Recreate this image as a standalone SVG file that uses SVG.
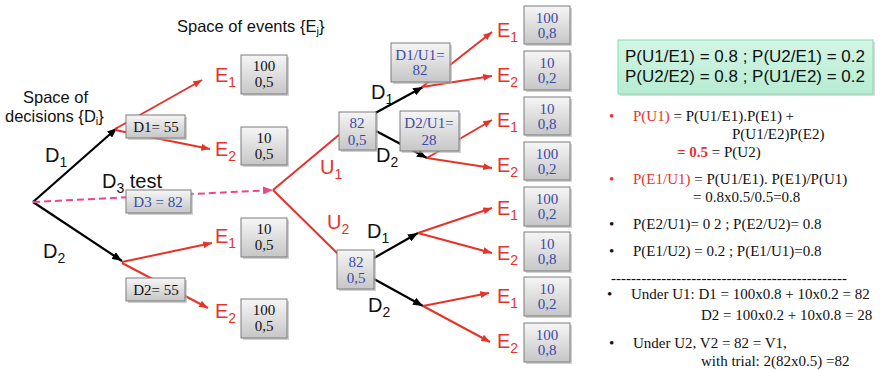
<svg xmlns="http://www.w3.org/2000/svg" width="880" height="370" viewBox="0 0 880 370">
  <defs>
    <linearGradient id="boxFill" x1="0" y1="0" x2="0" y2="1">
      <stop offset="0" stop-color="#f6f6f6"/>
      <stop offset="1" stop-color="#c6c6c6"/>
    </linearGradient>
    <linearGradient id="noteFill" x1="0" y1="0" x2="0" y2="1">
      <stop offset="0" stop-color="#d4f5e4"/>
      <stop offset="1" stop-color="#b6ecd2"/>
    </linearGradient>
    <marker id="arRed" viewBox="0 0 10 8" refX="10" refY="4" markerWidth="9" markerHeight="7" markerUnits="userSpaceOnUse" orient="auto">
      <path d="M0,0 L10,4 L0,8 z" fill="#e6332a"/>
    </marker>
    <marker id="arBlack" viewBox="0 0 10 8" refX="10" refY="4" markerWidth="10" markerHeight="8" markerUnits="userSpaceOnUse" orient="auto">
      <path d="M0,0 L10,4 L0,8 z" fill="#000"/>
    </marker>
    <marker id="arPink" viewBox="0 0 10 8" refX="10" refY="4" markerWidth="10" markerHeight="8" markerUnits="userSpaceOnUse" orient="auto">
      <path d="M0,0 L10,4 L0,8 z" fill="#ee4590"/>
    </marker>
  </defs>
  <style>
    .red { stroke: #e6332a; stroke-width: 2; fill: none; }
    .redA { stroke: #e6332a; stroke-width: 2; fill: none; marker-end: url(#arRed); }
    .blk { stroke: #000; stroke-width: 2.2; fill: none; marker-end: url(#arBlack); }
    .pink { stroke: #ee4590; stroke-width: 2; fill: none; stroke-dasharray: 7 4; marker-end: url(#arPink); }
    .box { fill: url(#boxFill); stroke: #7c7c7c; stroke-width: 1; }
    .shd { fill: #b0b0b0; opacity: 0.6; }
    .num { font-family: "Liberation Serif", "Times New Roman", serif; font-size: 15px; text-anchor: middle; fill: #111; }
    .numB { font-family: "Liberation Serif", "Times New Roman", serif; font-size: 15px; text-anchor: middle; fill: #3a4aa8; }
    .lbl { font-family: "Liberation Sans", Arial, sans-serif; font-size: 20px; fill: #111; }
    .lblR { font-family: "Liberation Sans", Arial, sans-serif; font-size: 20px; fill: #e6332a; }
    .cap { font-family: "Liberation Sans", Arial, sans-serif; font-size: 16.5px; fill: #111; }
    .note { font-family: "Liberation Sans", Arial, sans-serif; font-size: 17px; fill: #111; }
    .tx { font-family: "Liberation Serif", "Times New Roman", serif; font-size: 15px; fill: #111; }
    .rd { fill: #e6332a; }
  </style>

  <!-- headings -->
  <text class="cap" x="177" y="32">Space of events {E<tspan font-size="11" dy="3">j</tspan><tspan dy="-3">}</tspan></text>
  <text class="cap" x="23" y="103">Space of</text>
  <text class="cap" x="5" y="122">decisions {D<tspan font-size="11" dy="3">i</tspan><tspan dy="-3">}</tspan></text>

  <!-- connectors -->
  <g id="connectors">
    <line class="blk" x1="33" y1="202" x2="117" y2="128"/>
    <line class="blk" x1="33" y1="202" x2="122" y2="261"/>
    <line class="pink" x1="33" y1="202" x2="273" y2="190"/>

    <line class="redA" x1="115" y1="129" x2="202" y2="80"/>
    <line class="redA" x1="115" y1="130" x2="210" y2="149"/>
    <line class="redA" x1="122" y1="262" x2="212" y2="243"/>
    <line class="redA" x1="122" y1="263" x2="208" y2="308"/>

    <line class="red" x1="273" y1="190" x2="340" y2="134"/>
    <line class="red" x1="273" y1="190" x2="338" y2="254"/>

    <line class="blk" x1="368" y1="117" x2="423" y2="87"/>
    <line class="blk" x1="376" y1="131" x2="427" y2="158"/>
    <line class="blk" x1="374" y1="258" x2="418" y2="233"/>
    <line class="blk" x1="374" y1="279" x2="423" y2="306"/>

    <line class="redA" x1="422" y1="87" x2="492" y2="32"/>
    <line class="redA" x1="422" y1="87" x2="492" y2="76"/>
    <line class="redA" x1="427" y1="158" x2="492" y2="120"/>
    <line class="redA" x1="427" y1="158" x2="492" y2="168"/>
    <line class="redA" x1="418" y1="233" x2="492" y2="208"/>
    <line class="redA" x1="418" y1="233" x2="492" y2="253"/>
    <line class="redA" x1="423" y1="306" x2="489" y2="293"/>
    <line class="redA" x1="423" y1="306" x2="490" y2="342"/>
  </g>

  <!-- branch labels -->
  <g id="branch-labels">
    <text class="lbl" x="45" y="162" font-size="21">D<tspan font-size="14" dy="5">1</tspan></text>
    <text class="lbl" x="43" y="258" font-size="21">D<tspan font-size="14" dy="5">2</tspan></text>
    <text class="lbl" x="102" y="188">D<tspan font-size="14" dy="5">3</tspan><tspan dy="-5"> test</tspan></text>
    <text class="lblR" x="320" y="174">U<tspan font-size="14" dy="5">1</tspan></text>
    <text class="lblR" x="327" y="229">U<tspan font-size="14" dy="5">2</tspan></text>
    <text class="lbl" x="371" y="99">D<tspan font-size="14" dy="5">1</tspan></text>
    <text class="lbl" x="376" y="162">D<tspan font-size="14" dy="5">2</tspan></text>
    <text class="lbl" x="367" y="238">D<tspan font-size="14" dy="5">1</tspan></text>
    <text class="lbl" x="368" y="312">D<tspan font-size="14" dy="5">2</tspan></text>

    <text class="lblR" x="215" y="82">E<tspan font-size="14" dy="5">1</tspan></text>
    <text class="lblR" x="215" y="156">E<tspan font-size="14" dy="5">2</tspan></text>
    <text class="lblR" x="215" y="243">E<tspan font-size="14" dy="5">1</tspan></text>
    <text class="lblR" x="215" y="318">E<tspan font-size="14" dy="5">2</tspan></text>

    <text class="lblR" x="497" y="37">E<tspan font-size="14" dy="5">1</tspan></text>
    <text class="lblR" x="497" y="82">E<tspan font-size="14" dy="5">2</tspan></text>
    <text class="lblR" x="497" y="127">E<tspan font-size="14" dy="5">1</tspan></text>
    <text class="lblR" x="497" y="172">E<tspan font-size="14" dy="5">2</tspan></text>
    <text class="lblR" x="497" y="215">E<tspan font-size="14" dy="5">1</tspan></text>
    <text class="lblR" x="497" y="260">E<tspan font-size="14" dy="5">2</tspan></text>
    <text class="lblR" x="497" y="303">E<tspan font-size="14" dy="5">1</tspan></text>
    <text class="lblR" x="497" y="348">E<tspan font-size="14" dy="5">2</tspan></text>
  </g>

  <!-- decision value nodes -->
  <g id="node-d1">
    <rect class="shd" x="128" y="117" width="59" height="23"/>
    <rect class="box" x="126" y="115" width="59" height="23"/>
    <text class="num" x="156" y="132">D1= 55</text>
  </g>
  <g id="node-d3">
    <rect class="shd" x="128" y="192" width="65" height="23"/>
    <rect class="box" x="126" y="190" width="65" height="23"/>
    <text class="numB" x="158" y="207">D3 = 82</text>
  </g>
  <g id="node-d2">
    <rect class="shd" x="128" y="280" width="59" height="23"/>
    <rect class="box" x="126" y="278" width="59" height="23"/>
    <text class="num" x="156" y="295">D2= 55</text>
  </g>

  <!-- outcomes without trial -->
  <g id="node-d1-e1">
    <rect class="shd" x="243" y="57" width="46" height="39"/>
    <rect class="box" x="241" y="55" width="46" height="39"/>
    <text class="num" x="264" y="71">100</text>
    <text class="num" x="264" y="87">0,5</text>
  </g>
  <g id="node-d1-e2">
    <rect class="shd" x="243" y="129" width="46" height="38"/>
    <rect class="box" x="241" y="127" width="46" height="38"/>
    <text class="num" x="264" y="143">10</text>
    <text class="num" x="264" y="159">0,5</text>
  </g>
  <g id="node-d2-e1">
    <rect class="shd" x="243" y="220" width="46" height="39"/>
    <rect class="box" x="241" y="218" width="46" height="39"/>
    <text class="num" x="264" y="234">10</text>
    <text class="num" x="264" y="250">0,5</text>
  </g>
  <g id="node-d2-e2">
    <rect class="shd" x="243" y="301" width="46" height="39"/>
    <rect class="box" x="241" y="299" width="46" height="39"/>
    <text class="num" x="264" y="315">100</text>
    <text class="num" x="264" y="331">0,5</text>
  </g>

  <!-- trial result nodes -->
  <g id="node-u1">
    <rect class="shd" x="341" y="114" width="37" height="38"/>
    <rect class="box" x="339" y="112" width="37" height="38"/>
    <text class="numB" x="357" y="128">82</text>
    <text class="numB" x="357" y="145">0,5</text>
  </g>
  <g id="node-u2">
    <rect class="shd" x="339" y="252" width="37" height="39"/>
    <rect class="box" x="337" y="250" width="37" height="39"/>
    <text class="numB" x="356" y="267">82</text>
    <text class="numB" x="356" y="283">0,5</text>
  </g>
  <g id="node-d1-u1">
    <rect class="shd" x="393" y="45" width="59" height="39"/>
    <rect class="box" x="391" y="43" width="59" height="39"/>
    <text class="numB" x="420" y="60">D1/U1=</text>
    <text class="numB" x="420" y="75">82</text>
  </g>
  <g id="node-d2-u1">
    <rect class="shd" x="402" y="113" width="59" height="40"/>
    <rect class="box" x="400" y="111" width="59" height="40"/>
    <text class="numB" x="429" y="128">D2/U1=</text>
    <text class="numB" x="429" y="145">28</text>
  </g>

  <!-- outcomes after trial -->
  <g id="node-u1-d1-e1">
    <rect class="shd" x="526" y="8" width="46" height="38"/>
    <rect class="box" x="524" y="6" width="46" height="38"/>
    <text class="numB" x="547" y="23">100</text>
    <text class="numB" x="547" y="38">0,8</text>
  </g>
  <g id="node-u1-d1-e2">
    <rect class="shd" x="526" y="53" width="46" height="39"/>
    <rect class="box" x="524" y="51" width="46" height="39"/>
    <text class="numB" x="547" y="68">10</text>
    <text class="numB" x="547" y="83">0,2</text>
  </g>
  <g id="node-u1-d2-e1">
    <rect class="shd" x="526" y="99" width="46" height="38"/>
    <rect class="box" x="524" y="97" width="46" height="38"/>
    <text class="numB" x="547" y="114">10</text>
    <text class="numB" x="547" y="129">0,8</text>
  </g>
  <g id="node-u1-d2-e2">
    <rect class="shd" x="526" y="144" width="46" height="38"/>
    <rect class="box" x="524" y="142" width="46" height="38"/>
    <text class="numB" x="547" y="159">100</text>
    <text class="numB" x="547" y="174">0,2</text>
  </g>
  <g id="node-u2-d1-e1">
    <rect class="shd" x="526" y="189" width="46" height="39"/>
    <rect class="box" x="524" y="187" width="46" height="39"/>
    <text class="numB" x="547" y="204">100</text>
    <text class="numB" x="547" y="219">0,2</text>
  </g>
  <g id="node-u2-d1-e2">
    <rect class="shd" x="526" y="234" width="46" height="39"/>
    <rect class="box" x="524" y="232" width="46" height="39"/>
    <text class="numB" x="547" y="249">10</text>
    <text class="numB" x="547" y="264">0,8</text>
  </g>
  <g id="node-u2-d2-e1">
    <rect class="shd" x="526" y="279" width="46" height="39"/>
    <rect class="box" x="524" y="277" width="46" height="39"/>
    <text class="numB" x="547" y="294">10</text>
    <text class="numB" x="547" y="309">0,2</text>
  </g>
  <g id="node-u2-d2-e2">
    <rect class="shd" x="526" y="325" width="46" height="39"/>
    <rect class="box" x="524" y="323" width="46" height="39"/>
    <text class="numB" x="547" y="340">100</text>
    <text class="numB" x="547" y="355">0,8</text>
  </g>

  <!-- likelihood note -->
  <g id="likelihoods">
    <rect x="620" y="42" width="255" height="54" fill="#b8b8b8" opacity="0.5"/>
    <rect x="618" y="40" width="255" height="54" fill="url(#noteFill)" stroke="#86d9b2" stroke-width="1"/>
    <text class="note" x="625" y="62">P(U1/E1) = 0.8 ; P(U2/E1) = 0.2</text>
    <text class="note" x="625" y="82">P(U2/E2) = 0.8 ; P(U1/E2) = 0.2</text>
  </g>

  <!-- calculations -->
  <g id="calculations">
    <text class="tx rd" x="609" y="121">•</text>
    <text class="tx" x="633" y="121"><tspan class="rd">P(U1)</tspan> = P(U1/E1).P(E1) +</text>
    <text class="tx" x="732" y="139">P(U1/E2)P(E2)</text>
    <text class="tx" x="677" y="157"><tspan class="rd" font-weight="bold">= 0.5</tspan> = P(U2)</text>

    <text class="tx rd" x="609" y="184">•</text>
    <text class="tx" x="633" y="184"><tspan class="rd">P(E1/U1)</tspan> = P(U1/E1). P(E1)/P(U1)</text>
    <text class="tx" x="693" y="202">= 0.8x0.5/0.5=0.8</text>

    <text class="tx" x="609" y="229">•</text>
    <text class="tx" x="633" y="229">P(E2/U1)= 0 2 ; P(E2/U2)= 0.8</text>

    <text class="tx" x="609" y="256">•</text>
    <text class="tx" x="633" y="256">P(E1/U2) = 0.2 ; P(E1/U1)=0.8</text>

    <text class="tx" x="611" y="283" textLength="236" lengthAdjust="spacing">-----------------------------------------------</text>

    <text class="tx" x="607" y="299">•</text>
    <text class="tx" x="631" y="299">Under U1: D1 = 100x0.8 + 10x0.2 = 82</text>
    <text class="tx" x="701" y="320">D2 = 100x0.2 + 10x0.8 = 28</text>

    <text class="tx" x="609" y="348">•</text>
    <text class="tx" x="633" y="348">Under U2, V2 = 82 = V1,</text>
    <text class="tx" x="701" y="366">with trial: 2(82x0.5) =82</text>
  </g>
</svg>
